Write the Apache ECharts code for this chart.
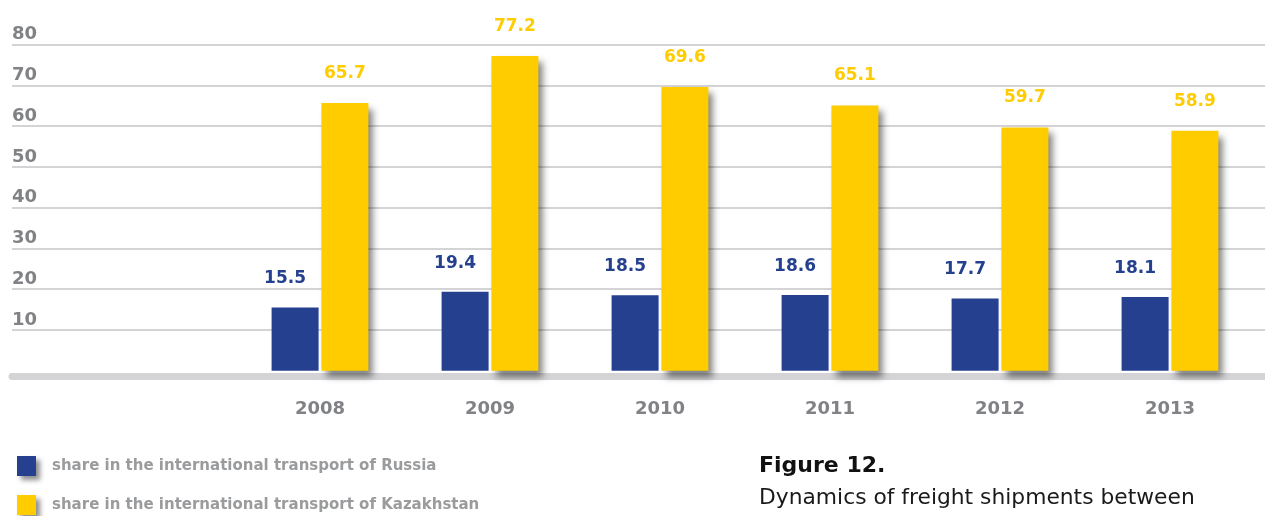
<!DOCTYPE html>
<html>
<head>
<meta charset="utf-8">
<script src="https://cdn.jsdelivr.net/npm/echarts@6/dist/echarts.min.js"></script>
<style>
  html, body { margin: 0; padding: 0; background: #fff; }
  #chart { width: 1265px; height: 516px; }
</style>
</head>
<body>
<div id="chart"></div>
<script>
// Freight shipment shares, 2008–2013
const years = ['2008', '2009', '2010', '2011', '2012', '2013'];
const russiaShare = [15.5, 19.4, 18.5, 18.6, 17.7, 18.1];
const kazakhstanShare = [65.7, 77.2, 69.6, 65.1, 59.7, 58.9];
const yTicks = { min: 0, max: 80, interval: 10 };

const russiaName = 'share in the international transport of Russia';
const kazakhstanName = 'share in the international transport of Kazakhstan';

const BLUE = '#25408f';
const YELLOW = '#ffcc00';
const GREY_TEXT = '#808285';
const FONT = 'DejaVu Sans';

const chart = echarts.init(document.getElementById('chart'));

chart.setOption({
  animation: false,
  backgroundColor: '#ffffff',
  title: {
    left: 759,
    top: 455,
    padding: 0,
    text: 'Figure 12.',
    subtext: 'Dynamics of freight shipments between',
    itemGap: 10,
    textStyle: { fontFamily: FONT, fontSize: 22, fontWeight: 'bold', color: '#111111' },
    subtextStyle: { fontFamily: FONT, fontSize: 21.8, fontWeight: 'normal', color: '#1a1a1a' }
  },
  legend: {
    orient: 'vertical',
    left: 17,
    top: 456,
    padding: 0,
    itemWidth: 19,
    itemHeight: 20,
    itemGap: 19,
    icon: 'rect',
    data: [russiaName, kazakhstanName],
    itemStyle: {
      borderWidth: 0,
      shadowColor: 'rgba(0,0,0,0.45)',
      shadowBlur: 5,
      shadowOffsetX: 4,
      shadowOffsetY: 4
    },
    textStyle: {
      fontFamily: FONT,
      fontSize: 15,
      fontWeight: 'bold',
      color: '#9a9b9d',
      padding: [0, 0, 0, 11]
    }
  },
  grid: [
    // full-width frame: gridlines, value labels and the grey baseline
    { left: 12, right: 0, top: 44.7, bottom: 145.3 },
    // band holding the bar groups
    { left: 235, right: 10, top: 44.7, bottom: 145.3 }
  ],
  xAxis: [
    {
      gridIndex: 0,
      type: 'value',
      min: 0,
      max: 1,
      offset: 6,
      axisLine: { show: true, onZero: false, lineStyle: { color: '#d4d4d6', width: 7, cap: 'round' } },
      axisTick: { show: false },
      axisLabel: { show: false },
      splitLine: { show: false }
    },
    {
      gridIndex: 1,
      type: 'category',
      data: years,
      axisLine: { show: false },
      axisTick: { show: false },
      axisLabel: {
        margin: 30,
        fontFamily: FONT,
        fontSize: 18,
        fontWeight: 'bold',
        color: GREY_TEXT
      }
    }
  ],
  yAxis: [
    {
      gridIndex: 0,
      type: 'value',
      min: yTicks.min,
      max: yTicks.max,
      interval: yTicks.interval,
      axisLine: { show: false },
      axisTick: { show: false },
      axisLabel: {
        inside: true,
        showMinLabel: false,
        margin: 0,
        align: 'left',
        verticalAlign: 'bottom',
        padding: [0, 0, 1, 0],
        fontFamily: FONT,
        fontSize: 18,
        fontWeight: 'bold',
        color: GREY_TEXT
      },
      splitLine: {
        show: true,
        showMinLine: false,
        lineStyle: { color: '#c6c6c8', width: 1.5 }
      }
    },
    {
      gridIndex: 1,
      type: 'value',
      min: yTicks.min,
      max: yTicks.max,
      interval: yTicks.interval,
      show: false,
      splitLine: { show: false }
    }
  ],
  series: [
    {
      name: russiaName,
      type: 'bar',
      xAxisIndex: 1,
      yAxisIndex: 1,
      data: russiaShare,
      barWidth: 47,
      barGap: '6%',
      z: 2,
      itemStyle: { color: BLUE },
      label: {
        show: true,
        position: 'top',
        distance: 20,
        offset: [-10, 0],
        fontFamily: FONT,
        fontSize: 17,
        fontWeight: 'bold',
        color: BLUE
      }
    },
    {
      name: kazakhstanName,
      type: 'bar',
      xAxisIndex: 1,
      yAxisIndex: 1,
      data: kazakhstanShare,
      barWidth: 47,
      z: 3,
      itemStyle: {
        color: YELLOW,
        shadowColor: 'rgba(0,0,0,0.5)',
        shadowBlur: 7,
        shadowOffsetX: 5,
        shadowOffsetY: 6
      },
      label: {
        show: true,
        position: 'top',
        distance: 21,
        fontFamily: FONT,
        fontSize: 17,
        fontWeight: 'bold',
        color: YELLOW
      }
    }
  ]
});
</script>
</body>
</html>
